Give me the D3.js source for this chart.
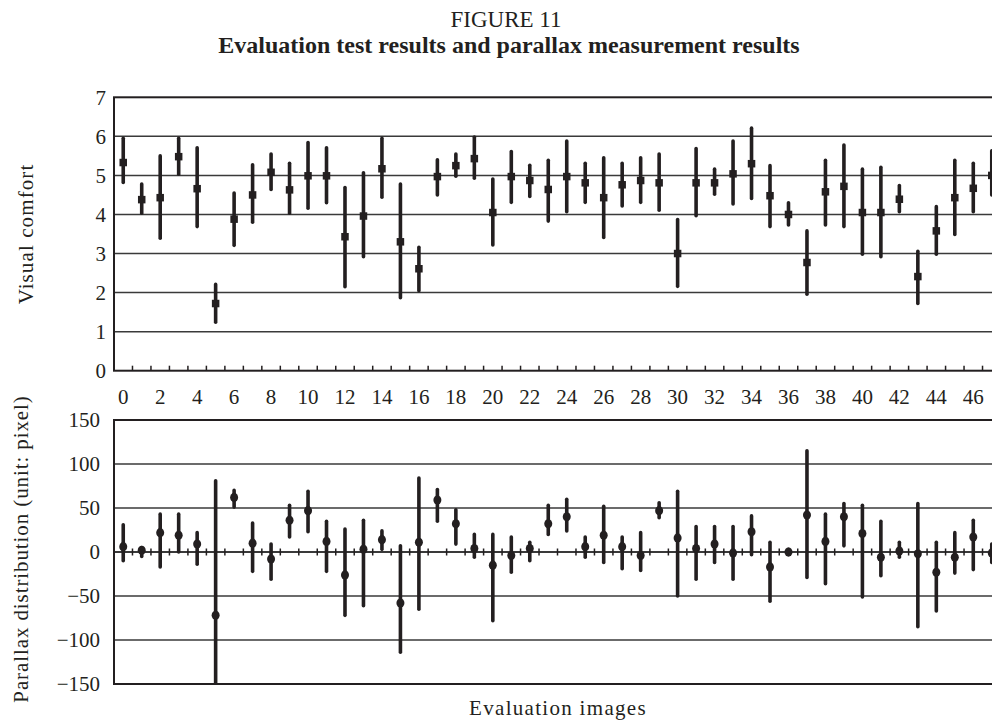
<!DOCTYPE html>
<html>
<head>
<meta charset="utf-8">
<script src="https://cdn.jsdelivr.net/npm/d3@7"></script>
<style>
  html, body { margin: 0; padding: 0; background: #fff; }
  svg { display: block; }
  text { font-family: "Liberation Serif", "Times New Roman", serif; fill: #231f20; }
</style>
</head>
<body>
<script>
// ---------------- DATA ----------------
const images = [0,1,2,3,4,5,6,7,8,9,10,11,12,13,14,15,16,17,18,19,20,21,22,23,24,25,26,27,28,29,30,31,32,33,34,35,36,37,38,39,40,41,42,43,44,45,46,47];
const xTickLabels = [0,2,4,6,8,10,12,14,16,18,20,22,24,26,28,30,32,34,36,38,40,42,44,46];

const comfortMean = [5.33,4.38,4.43,5.48,4.66,1.72,3.88,4.50,5.08,4.63,4.99,4.99,3.43,3.96,5.17,3.30,2.61,4.97,5.25,5.43,4.05,4.97,4.87,4.64,4.97,4.81,4.43,4.76,4.87,4.81,3.00,4.81,4.81,5.04,5.30,4.48,4.00,2.77,4.58,4.72,4.05,4.05,4.39,2.41,3.58,4.43,4.67,5.00];
const comfortHigh = [5.95,4.78,5.50,5.95,5.71,2.21,4.55,5.27,5.55,5.31,5.84,5.71,4.69,5.07,5.95,4.78,3.16,5.40,5.55,5.98,4.91,5.61,5.26,5.39,5.88,5.31,5.45,5.31,5.45,5.55,3.87,5.69,5.16,5.88,6.21,5.25,4.30,3.58,5.39,5.78,5.16,5.21,4.74,3.06,4.20,5.39,5.31,5.63];
const comfortLow  = [4.82,4.03,3.39,5.03,3.69,1.24,3.21,3.80,4.64,4.03,4.16,4.30,2.15,2.92,4.44,1.87,2.05,4.50,4.98,4.93,3.22,4.31,4.46,3.83,4.07,4.31,3.41,4.22,4.31,4.11,2.16,3.97,4.52,4.27,4.41,3.69,3.73,1.96,3.73,3.69,2.98,2.92,4.07,1.72,2.98,3.49,4.07,4.50];
const comfortTicks = [0,1,2,3,4,5,6,7];

const parallaxMean = [6,2,22,19,9,-72,62,10,-8,36,47,12,-26,3,14,-58,11,59,32,4,-15,-4,4,32,40,6,19,6,-4,47,16,4,9,-1,23,-17,0,42,12,40,21,-6,1,-2,-23,-6,17,-1];
const parallaxHigh = [31,5,43,43,22,81,70,33,9,53,69,35,26,36,24,7,84,71,48,20,20,17,11,53,60,17,52,17,22,56,69,29,29,29,41,11,3,115,43,55,53,35,11,55,11,22,36,9];
const parallaxLow  = [-10,-5,-17,0,-14,-150,51,-22,-31,17,23,-22,-72,-61,3,-114,-65,35,9,-6,-78,-23,-10,20,24,-6,-12,-19,-21,39,-50,-31,-12,-31,-3,-56,-3,-29,-36,7,-51,-27,-6,-85,-67,-24,-20,-12];
const parallaxTicks = [-150,-100,-50,0,50,100,150];

// ---------------- LAYOUT ----------------
const W = 992, H = 722;
const ink = "#231f20";
const svg = d3.select("body").append("svg").attr("width", W).attr("height", H);

const x = d3.scaleBand().domain(images).range([114, 1001]).paddingInner(0).paddingOuter(0);
const xc = i => x(i) + x.bandwidth() / 2;
const yTop = d3.scaleLinear().domain([0, 7]).range([370.7, 97.3]);
const yBot = d3.scaleLinear().domain([-150, 150]).range([684, 420]);

// Titles
svg.append("text").attr("x", 506).attr("y", 27).attr("text-anchor", "middle")
  .style("font-size", "23px").text("FIGURE 11");
svg.append("text").attr("x", 509).attr("y", 53).attr("text-anchor", "middle")
  .style("font-size", "24px").style("font-weight", "bold")
  .text("Evaluation test results and parallax measurement results");

// ---------- Top panel ----------
const gTop = svg.append("g");
gTop.selectAll("line.grid").data(comfortTicks.filter(v => v > 0 && v < 7)).join("line")
  .attr("x1", x.range()[0]).attr("x2", x.range()[1])
  .attr("y1", d => yTop(d)).attr("y2", d => yTop(d))
  .attr("stroke", "#3a3a3a").attr("stroke-width", 1.5);
gTop.append("rect").attr("x", x.range()[0]).attr("y", yTop(7))
  .attr("width", x.range()[1] - x.range()[0]).attr("height", yTop(0) - yTop(7))
  .attr("fill", "none").attr("stroke", ink).attr("stroke-width", 2);
gTop.selectAll("line.xt").data(images.slice(1)).join("line")
  .attr("x1", d => x(d)).attr("x2", d => x(d))
  .attr("y1", yTop(0)).attr("y2", yTop(0) - 5)
  .attr("stroke", ink).attr("stroke-width", 1.5);
gTop.append("g").attr("transform", `translate(${x.range()[0]},0)`)
  .call(d3.axisLeft(yTop).tickValues(comfortTicks).tickSize(0).tickPadding(8).tickFormat(d3.format("d")))
  .call(g => g.select(".domain").remove())
  .call(g => g.selectAll("text").style("font-size", "21px").style("font-family", "'Liberation Serif', serif").attr("fill", ink));
gTop.append("g").attr("transform", `translate(0,${yTop(0)})`)
  .call(d3.axisBottom(x).tickValues(xTickLabels).tickSize(0).tickPadding(18))
  .call(g => g.select(".domain").remove())
  .call(g => g.selectAll("text").style("font-size", "21px").style("font-family", "'Liberation Serif', serif").attr("fill", ink));
gTop.selectAll("line.err").data(images).join("line")
  .attr("x1", d => xc(d)).attr("x2", d => xc(d))
  .attr("y1", d => yTop(comfortHigh[d])).attr("y2", d => yTop(comfortLow[d]))
  .attr("stroke", ink).attr("stroke-width", 3.6).attr("stroke-linecap", "round");
const sq = 7.5;
gTop.selectAll("rect.m").data(images).join("rect")
  .attr("x", d => xc(d) - sq / 2).attr("y", d => yTop(comfortMean[d]) - sq / 2)
  .attr("width", sq).attr("height", sq).attr("fill", ink);
svg.append("text").attr("transform", `translate(33,${(yTop(0) + yTop(7)) / 2}) rotate(-90)`)
  .attr("text-anchor", "middle").style("font-size", "21px").style("letter-spacing", "1.1px")
  .text("Visual comfort");

// ---------- Bottom panel ----------
const gBot = svg.append("g");
gBot.selectAll("line.grid").data(parallaxTicks.filter(v => v > -150 && v < 150)).join("line")
  .attr("x1", x.range()[0]).attr("x2", x.range()[1])
  .attr("y1", d => yBot(d)).attr("y2", d => yBot(d))
  .attr("stroke", "#3a3a3a").attr("stroke-width", d => d === 0 ? 1.8 : 1.5);
gBot.append("rect").attr("x", x.range()[0]).attr("y", yBot(150))
  .attr("width", x.range()[1] - x.range()[0]).attr("height", yBot(-150) - yBot(150))
  .attr("fill", "none").attr("stroke", ink).attr("stroke-width", 2);
gBot.selectAll("line.xt").data(images.slice(1)).join("line")
  .attr("x1", d => x(d)).attr("x2", d => x(d))
  .attr("y1", yBot(0) - 3.5).attr("y2", yBot(0) + 3.5)
  .attr("stroke", ink).attr("stroke-width", 1.5);
gBot.append("g").attr("transform", `translate(${x.range()[0]},0)`)
  .call(d3.axisLeft(yBot).tickValues(parallaxTicks).tickSize(0).tickPadding(14).tickFormat(d3.format("d")))
  .call(g => g.select(".domain").remove())
  .call(g => g.selectAll("text").style("font-size", "21px").style("font-family", "'Liberation Serif', serif").attr("fill", ink));
svg.append("clipPath").attr("id", "botclip").append("rect")
  .attr("x", x.range()[0]).attr("y", yBot(150)).attr("width", x.range()[1] - x.range()[0]).attr("height", yBot(-150) - yBot(150));
const gBars = gBot.append("g").attr("clip-path", "url(#botclip)");
gBars.selectAll("line.err").data(images).join("line")
  .attr("x1", d => xc(d)).attr("x2", d => xc(d))
  .attr("y1", d => yBot(parallaxHigh[d])).attr("y2", d => yBot(parallaxLow[d]))
  .attr("stroke", ink).attr("stroke-width", 3.6).attr("stroke-linecap", "round");
gBars.selectAll("ellipse.m").data(images).join("ellipse")
  .attr("cx", d => xc(d)).attr("cy", d => yBot(parallaxMean[d]))
  .attr("rx", 4).attr("ry", 4.6).attr("fill", ink);
svg.append("text").attr("transform", `translate(28,${(yBot(150) + yBot(-150)) / 2 - 3}) rotate(-90)`)
  .attr("text-anchor", "middle").style("font-size", "21px").style("letter-spacing", "0.9px")
  .text("Parallax distribution (unit: pixel)");

svg.append("text").attr("x", 558).attr("y", 715).attr("text-anchor", "middle")
  .style("font-size", "21px").style("letter-spacing", "1.3px")
  .text("Evaluation images");
</script>
</body>
</html>
